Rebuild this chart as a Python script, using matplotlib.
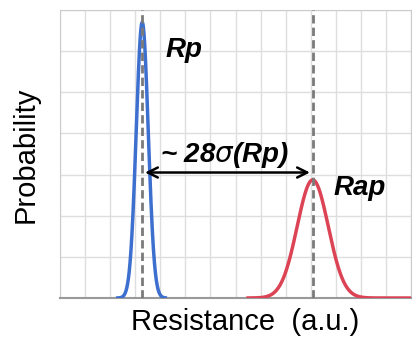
import numpy as np
import matplotlib.pyplot as plt

plt.rcParams['font.family'] = ['Liberation Sans', 'DejaVu Sans']

# distributions (grid units)
names = ["Rp", "Rap"]
centers = [3.28, 10.08]
sigmas = [0.24, 0.62]
peaks = [6.7, 2.87]
spans = [(2.3, 4.2), (7.5, 14.0)]
colors = ["#3d6fcf", "#dc4456"]

fig = plt.figure(figsize=(4.19, 3.41), dpi=100)
ax = fig.add_axes([60/419, 1 - 298/341, 351/419, 288/341])
ax.set_xlim(0, 14)
ax.set_ylim(0, 7)

ax.set_xticks(np.arange(0, 15, 1))
ax.set_yticks(np.arange(0, 8, 1))
ax.grid(True, which="major", color="#dedede", lw=1)
ax.tick_params(which="both", length=0, labelbottom=False, labelleft=False)
for s in ax.spines.values():
    s.set_color("#cccccc")
ax.spines["bottom"].set_color("#999999")
ax.spines["bottom"].set_linewidth(1.5)

for c, sg, pk, (a, b), col in zip(centers, sigmas, peaks, spans, colors):
    x = np.linspace(a, b, 400)
    y = pk * np.exp(-0.5 * ((x - c) / sg) ** 2)
    ax.plot(x, y, color=col, lw=2.5, zorder=3)
    ax.axvline(c, color="#7a7a7a", ls=(0, (3, 1.5)), lw=2, zorder=4)

ax.text(4.2, 5.85, names[0], fontsize=20, fontweight="bold", style="italic")
ax.text(10.9, 2.5, names[1], fontsize=20, fontweight="bold", style="italic")

ax.annotate("", xy=(centers[0], 3.05), xytext=(centers[1], 3.05),
            arrowprops=dict(arrowstyle="<->", color="black", lw=1.8,
                            mutation_scale=18), zorder=5)
ax.text((centers[0] + centers[1]) / 2 - 0.1, 3.3, r"~ 28$\sigma$(Rp)",
        fontsize=20, fontweight="bold", style="italic", ha="center",
        va="baseline")

fig.text(26/419, 1 - 155/341, "Probability", rotation=90, fontsize=21,
         ha="center", va="center")
fig.text(245/419, 1 - 322/341, "Resistance  (a.u.)", fontsize=21,
         ha="center", va="center")

fig.savefig("out.png", dpi=100)
